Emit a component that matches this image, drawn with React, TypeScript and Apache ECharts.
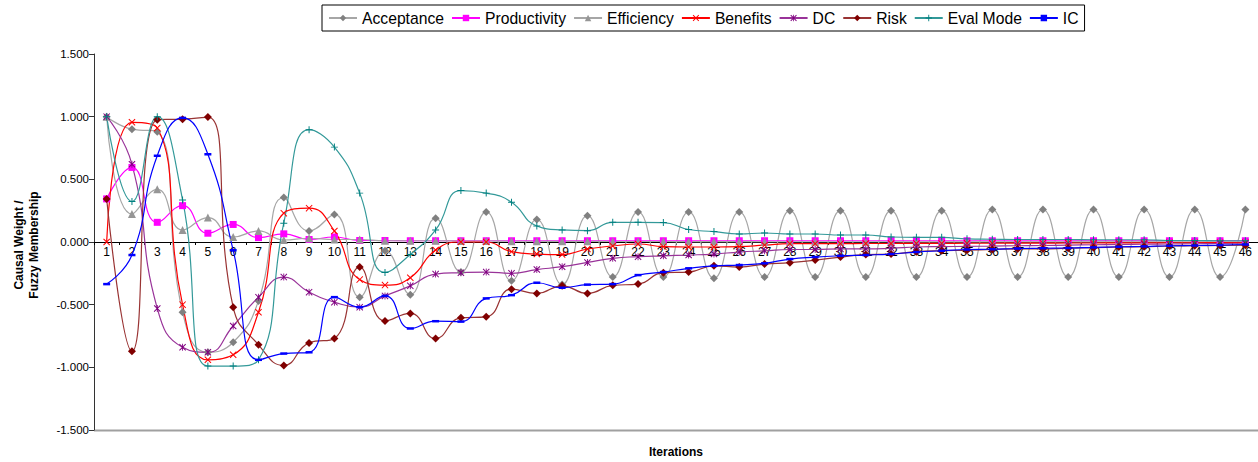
import React, { useEffect, useRef } from "react";
import * as echarts from "echarts";

const iterations = Array.from({ length: 46 }, (_, i) => String(i + 1));
const yTicks = { min: -1.5, max: 1.5, interval: 0.5 };

const acceptance = [1.0, 0.9, 0.88, -0.56, -0.88, -0.8, -0.47, 0.355, 0.088, 0.22, -0.44, -0.07, -0.42, 0.19, -0.24, 0.24, -0.31, 0.18, -0.34, 0.21, -0.28, 0.24, -0.28, 0.24, -0.29, 0.24, -0.28, 0.25, -0.28, 0.25, -0.28, 0.25, -0.28, 0.25, -0.28, 0.26, -0.28, 0.26, -0.28, 0.26, -0.28, 0.26, -0.28, 0.26, -0.28, 0.26];
const productivity = [0.344, 0.595, 0.157, 0.29, 0.07, 0.14, 0.035, 0.065, 0.02, 0.04, 0.012, 0.012, 0.01, 0.01, 0.01, 0.01, 0.01, 0.01, 0.01, 0.01, 0.01, 0.01, 0.01, 0.01, 0.01, 0.01, 0.01, 0.01, 0.01, 0.01, 0.01, 0.01, 0.01, 0.01, 0.01, 0.01, 0.01, 0.01, 0.01, 0.01, 0.01, 0.01, 0.01, 0.01, 0.01, 0.01];
const efficiency = [1.0, 0.224, 0.42, 0.096, 0.195, 0.04, 0.088, 0.016, 0.03, 0.02, 0.02, 0.01, 0.01, 0.01, 0.008, 0.008, 0.006, 0.006, 0.005, 0.005, 0.004, 0.004, 0.004, 0.003, 0.003, 0.003, 0.002, 0.002, 0.002, 0.002, 0.002, 0.002, 0.001, 0.001, 0.001, 0.001, 0.001, 0.001, 0.001, 0.001, 0.001, 0.001, 0.001, 0.001, 0.001, 0.001];
const benefits = [0.0, 0.955, 0.91, -0.5, -0.94, -0.9, -0.56, 0.23, 0.27, 0.088, -0.3, -0.344, -0.285, -0.064, 0.0, 0.0, -0.077, -0.096, -0.1, -0.056, -0.032, -0.016, -0.037, -0.04, -0.04, -0.037, -0.025, -0.013, -0.013, -0.013, -0.012, -0.012, -0.011, -0.011, -0.01, -0.01, -0.009, -0.009, -0.008, -0.008, -0.007, -0.007, -0.006, -0.006, -0.005, -0.005];
const dc = [1.0, 0.62, -0.53, -0.84, -0.88, -0.67, -0.44, -0.28, -0.4, -0.48, -0.52, -0.43, -0.35, -0.256, -0.245, -0.24, -0.25, -0.22, -0.197, -0.163, -0.13, -0.117, -0.11, -0.104, -0.096, -0.08, -0.07, -0.06, -0.06, -0.055, -0.055, -0.05, -0.04, -0.037, -0.035, -0.033, -0.03, -0.028, -0.025, -0.022, -0.02, -0.018, -0.016, -0.014, -0.012, -0.01];
const risk = [0.344, -0.872, 0.976, 0.98, 0.997, -0.52, -0.82, -0.985, -0.805, -0.77, -0.2, -0.63, -0.57, -0.77, -0.605, -0.597, -0.376, -0.41, -0.35, -0.41, -0.346, -0.336, -0.245, -0.24, -0.19, -0.2, -0.176, -0.165, -0.144, -0.12, -0.1, -0.096, -0.077, -0.07, -0.066, -0.06, -0.055, -0.055, -0.05, -0.045, -0.04, -0.037, -0.032, -0.03, -0.028, -0.025];
const evalMode = [1.0, 0.323, 1.0, 0.336, -0.99, -0.99, -0.94, 0.15, 0.896, 0.757, 0.39, -0.243, -0.1, 0.096, 0.41, 0.39, 0.318, 0.128, 0.096, 0.09, 0.157, 0.157, 0.155, 0.1, 0.083, 0.064, 0.072, 0.064, 0.064, 0.056, 0.056, 0.04, 0.037, 0.037, 0.025, 0.022, 0.02, 0.02, 0.02, 0.018, 0.018, 0.018, 0.012, 0.012, 0.01, 0.01];
const ic = [-0.336, -0.104, 0.688, 0.99, 0.7, -0.066, -0.94, -0.89, -0.88, -0.44, -0.52, -0.43, -0.69, -0.632, -0.635, -0.45, -0.424, -0.325, -0.365, -0.34, -0.336, -0.264, -0.24, -0.21, -0.19, -0.184, -0.17, -0.136, -0.12, -0.11, -0.104, -0.096, -0.08, -0.07, -0.06, -0.058, -0.052, -0.05, -0.048, -0.043, -0.038, -0.035, -0.03, -0.028, -0.025, -0.02];

const FONT = "'Liberation Sans', Arial, sans-serif";
const X_SYMBOL = "path://M0,1L1,0L5,4L9,0L10,1L6,5L10,9L9,10L5,6L1,10L0,9L4,5Z";
const STAR_SYMBOL = "path://M0,1L1,0L5,4L9,0L10,1L6,5L10,9L9,10L5,6L1,10L0,9L4,5Z M4.4,0H5.6V10H4.4Z";
const PLUS_SYMBOL = "path://M4.3,0H5.7V4.3H10V5.7H5.7V10H4.3V5.7H0V4.3H4.3Z";

const GRID_TOP = 54;
const GRID_HEIGHT = 376;

function mk(name: string, data: number[], lineColor: string, markColor: string, symbol: string, symbolSize: any) {
  return {
    name,
    type: "line",
    data,
    smooth: 0.5,
    symbol,
    symbolSize,
    showSymbol: true,
    lineStyle: { color: lineColor, width: 1.2 },
    itemStyle: { color: markColor, borderWidth: 0 },
    emphasis: { disabled: true },
  };
}

export default function App() {
  const ref = useRef<HTMLDivElement>(null);
  useEffect(() => {
    if (!ref.current) return;
    const chart = echarts.init(ref.current, undefined, { renderer: "svg" });
    // zero line position inside the grid: shift the bottom axis up to it
    const zeroOffset = -GRID_HEIGHT * (0 - yTicks.min) / (yTicks.max - yTicks.min);
    chart.setOption({
      animation: false,
      backgroundColor: "#fff",
      textStyle: { fontFamily: FONT },
      legend: {
        left: 322,
        top: 5,
        padding: [5, 6],
        itemGap: 7,
        itemWidth: 28,
        itemHeight: 8,
        borderColor: "#000",
        borderWidth: 1,
        textStyle: { fontSize: 15.7, color: "#000", fontFamily: FONT },
      },
      grid: { left: 94, top: GRID_TOP, width: 1167, height: GRID_HEIGHT },
      xAxis: {
        type: "category",
        data: iterations,
        boundaryGap: true,
        position: "bottom",
        offset: zeroOffset,
        axisLine: { onZero: false, lineStyle: { color: "#000", width: 1 } },
        axisTick: { show: true, interval: 0, length: 3, lineStyle: { color: "#000" } },
        axisLabel: { interval: 0, margin: 4, fontSize: 12, color: "#000", fontFamily: FONT },
        splitLine: { show: false },
      },
      yAxis: {
        type: "value",
        min: yTicks.min,
        max: yTicks.max,
        interval: yTicks.interval,
        axisLine: { show: true, lineStyle: { color: "#333" } },
        axisTick: { show: true, length: 5, lineStyle: { color: "#333" } },
        axisLabel: { margin: 5, fontSize: 11.5, color: "#000", fontFamily: FONT, formatter: (v: number) => v.toFixed(3) },
        splitLine: { show: false },
      },
      graphic: [
        { type: "line", shape: { x1: 94, y1: 430.5, x2: 1258, y2: 430.5 }, style: { stroke: "#a0a0a0", lineWidth: 2 }, silent: true },
        { type: "text", x: 676, y: 452, style: { text: "Iterations", font: `bold 12px ${FONT}`, fill: "#000", textAlign: "center", textVerticalAlign: "middle" } },
        { type: "text", x: 19, y: 245, rotation: Math.PI / 2, style: { text: "Causal Weight /", font: `bold 12px ${FONT}`, fill: "#000", textAlign: "center", textVerticalAlign: "middle" } },
        { type: "text", x: 34, y: 245, rotation: Math.PI / 2, style: { text: "Fuzzy Membership", font: `bold 12px ${FONT}`, fill: "#000", textAlign: "center", textVerticalAlign: "middle" } },
      ],
      series: [
        mk("Acceptance", acceptance, "#a6a6a6", "#808080", "diamond", 8),
        mk("Productivity", productivity, "#ff00ff", "#ff00ff", "rect", 7),
        mk("Efficiency", efficiency, "#a6a6a6", "#969696", "triangle", 8),
        mk("Benefits", benefits, "#ff0000", "#ff0000", X_SYMBOL, 7),
        mk("DC", dc, "#993399", "#800080", STAR_SYMBOL, 7),
        mk("Risk", risk, "#993333", "#800000", "diamond", 8),
        mk("Eval Mode", evalMode, "#339999", "#008080", PLUS_SYMBOL, 7),
        mk("IC", ic, "#0000ff", "#0000ff", "rect", [7, 2.5]),
      ],
    });
    return () => chart.dispose();
  }, []);
  return <div ref={ref} style={{ position: "fixed", left: 0, top: 0, width: 1258, height: 462 }} />;
}
